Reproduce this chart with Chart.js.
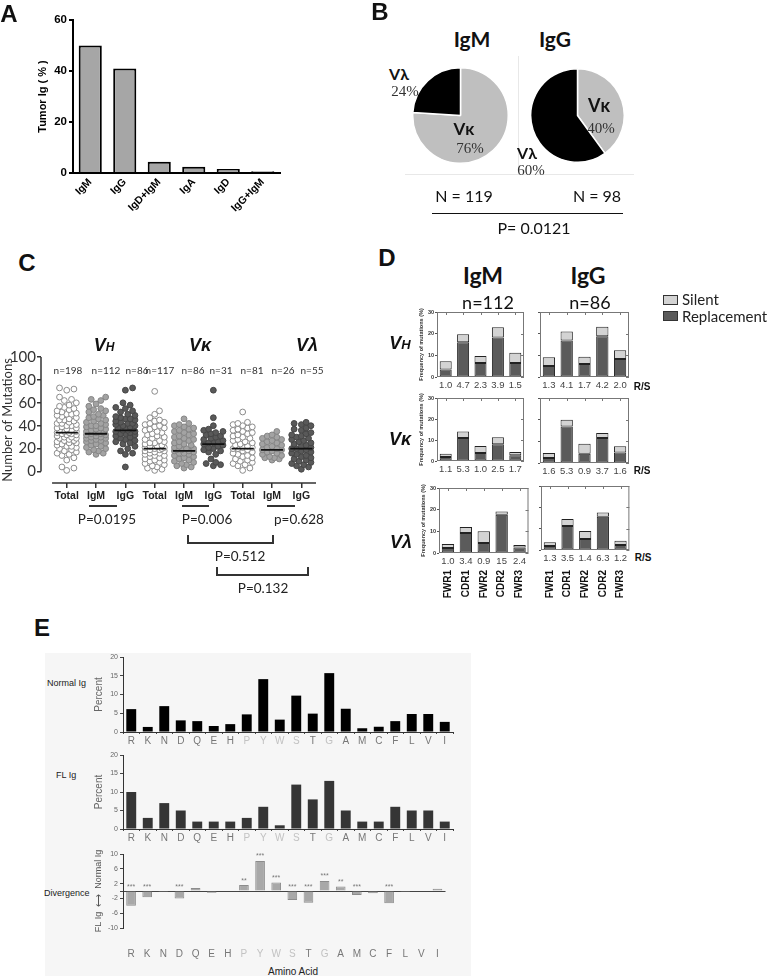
<!DOCTYPE html>
<html>
<head>
<meta charset="utf-8">
<script src="https://cdn.jsdelivr.net/npm/chart.js@4.4.0/dist/chart.umd.min.js"></script>
<style>
  body { margin: 0; background: #fff; width: 767px; height: 976px; position: relative; overflow: hidden; }
  canvas, .t, .r { position: absolute; }
  .t { white-space: nowrap; line-height: 1; color: #111; }
</style>
</head>
<body>
<script>
/* ---------- fonts / colours ---------- */
const SANS = '"Liberation Sans", Arial, sans-serif';
const CAL = 'Lato, "Open Sans", "DejaVu Sans", sans-serif';
const SERIF = '"Liberation Serif", "DejaVu Serif", serif';

/* ---------- A: tumour Ig isotypes ---------- */
const isotypes = ['IgM', 'IgG', 'IgD+IgM', 'IgA', 'IgD', 'IgG+IgM'];
const tumorIgPct = [50, 41, 4.4, 2.5, 1.6, 0.7];
const tumorTicks = [0, 20, 40, 60];

/* ---------- B: light chain usage ---------- */
const lightChains = ['Vκ', 'Vλ'];
const igmLight = [76, 24];
const iggLight = [40, 60];

/* ---------- C: number of mutations ---------- */
const mutColumns = ['Total', 'IgM', 'IgG', 'Total', 'IgM', 'IgG', 'Total', 'IgM', 'IgG'];
const mutTicks = [0, 20, 40, 60, 80, 100];
const mutMeans = [34, 33, 36, 20, 18, 24, 20, 19, 20];
const vhTotal = [73, 72, 71, 65, 63, 62, 60, 58, 57, 56, 55, 54, 53, 52, 51, 50, 50, 49, 48, 47, 46, 45, 45, 44, 43, 42, 42, 41, 40, 40, 39, 38, 38, 37, 36, 36, 35, 35, 34, 34, 33, 33, 32, 32, 31, 30, 30, 29, 29, 28, 27, 27, 26, 25, 25, 24, 23, 22, 22, 21, 20, 19, 18, 17, 16, 15, 14, 12, 10, 4, 3, 1];
const vhIgM = [65, 63, 62, 59, 57, 55, 54, 53, 52, 50, 49, 48, 47, 46, 45, 44, 43, 42, 41, 40, 40, 39, 38, 37, 37, 36, 35, 35, 34, 34, 33, 33, 32, 32, 31, 30, 30, 29, 29, 28, 27, 27, 26, 25, 24, 23, 22, 21, 20, 19, 18, 17, 16, 15];
const vhIgG = [73, 71, 60, 58, 56, 55, 53, 52, 50, 49, 48, 47, 46, 46, 45, 44, 43, 42, 42, 41, 40, 40, 39, 38, 38, 37, 36, 36, 35, 35, 34, 33, 33, 32, 31, 30, 29, 28, 27, 26, 25, 24, 22, 20, 18, 16, 15, 4];
const vkTotal = [70, 53, 50, 47, 45, 44, 43, 42, 41, 40, 39, 38, 37, 36, 35, 34, 33, 32, 31, 30, 29, 28, 27, 26, 25, 25, 24, 23, 22, 22, 21, 21, 20, 20, 19, 19, 18, 18, 17, 16, 16, 15, 14, 14, 13, 12, 11, 10, 10, 9, 8, 7, 6, 5, 4, 3, 2, 1];
const vkIgM = [46, 42, 41, 40, 39, 38, 37, 36, 35, 34, 33, 32, 31, 30, 29, 28, 27, 26, 25, 24, 23, 22, 21, 20, 20, 19, 19, 18, 18, 17, 16, 16, 15, 14, 13, 12, 11, 10, 9, 8, 7, 6, 5, 4, 3];
const vkIgG = [71, 47, 40, 37, 36, 35, 34, 33, 32, 31, 30, 29, 28, 27, 26, 25, 25, 24, 23, 22, 21, 20, 19, 18, 17, 15, 11, 8, 7, 6, 5];
const vlTotal = [52, 43, 42, 41, 40, 39, 38, 37, 36, 35, 34, 33, 32, 31, 30, 29, 28, 27, 26, 25, 24, 23, 22, 21, 21, 20, 20, 19, 18, 17, 16, 15, 14, 13, 12, 11, 10, 9, 8, 7, 6, 5, 3, 1];
const vlIgM = [35, 32, 31, 30, 29, 28, 27, 26, 25, 24, 23, 22, 21, 20, 19, 19, 18, 17, 16, 15, 14, 13, 12, 12, 11, 10];
const vlIgG = [43, 42, 41, 40, 38, 37, 36, 34, 33, 32, 31, 30, 29, 28, 27, 26, 25, 24, 23, 22, 21, 20, 20, 19, 18, 17, 16, 15, 14, 13, 12, 11, 10, 9, 8, 7, 6, 5, 4, 2];

/* ---------- D: silent / replacement by region ---------- */
const regions = ['FWR1', 'CDR1', 'FWR2', 'CDR2', 'FWR3'];
const vhIgMRep = [3.5, 16, 6.5, 18.2, 6.5], vhIgMSil = [3.8, 3.7, 3.2, 4.8, 4.7];
const vhIgGRep = [5.1, 16.8, 6, 18.8, 8.3], vhIgGSil = [4, 4.2, 3.3, 4.4, 4];
const vkIgMRep = [1.9, 11, 3.8, 8, 2.7], vkIgMSil = [1.6, 3, 3.3, 3.3, 1.6];
const vkIgGRep = [2.3, 16.9, 4.3, 11.5, 4.9], vkIgGSil = [2.3, 3.1, 4.6, 2.3, 2.8];
const vlIgMRep = [2.3, 9.2, 4.6, 17.7, 2.5], vlIgMSil = [1.8, 2.8, 5.4, 1.5, 1.2];
const vlIgGRep = [1.9, 11.2, 5.1, 15.6, 2.3], vlIgGSil = [1.7, 3.3, 3.8, 2.0, 2.0];
const vhIgMRS = ['1.0', '4.7', '2.3', '3.9', '1.5'], vhIgGRS = ['1.3', '4.1', '1.7', '4.2', '2.0'];
const vkIgMRS = ['1.1', '5.3', '1.0', '2.5', '1.7'], vkIgGRS = ['1.6', '5.3', '0.9', '3.7', '1.6'];
const vlIgMRS = ['1.0', '3.4', '0.9', '15', '2.4'], vlIgGRS = ['1.3', '3.5', '1.4', '6.3', '1.2'];

/* ---------- E: amino acid composition ---------- */
const aminoAcids = ['R', 'K', 'N', 'D', 'Q', 'E', 'H', 'P', 'Y', 'W', 'S', 'T', 'G', 'A', 'M', 'C', 'F', 'L', 'V', 'I'];
const paleAcids = ['P', 'Y', 'W', 'S', 'G'];
const normalIgPct = [6.1, 1.35, 6.9, 3.1, 2.9, 1.6, 2.1, 4.7, 14.1, 3.3, 9.7, 4.9, 15.7, 6.2, 1.0, 1.4, 2.9, 4.8, 4.8, 2.7];
const flIgPct = [10, 3, 7, 5, 2, 2, 2, 3, 6, 1, 12, 8, 13, 5, 2, 2, 6, 5, 5, 2];
const divergence = [-4.0, -1.7, -0.3, -2.0, 0.8, -0.45, 0, 1.6, 8.1, 2.3, -2.4, -3.2, 2.7, 1.2, -1.1, -0.6, -3.3, -0.3, -0.15, 0.6];
const divergenceStars = ['***', '***', '', '***', '', '', '', '**', '***', '***', '***', '***', '***', '**', '***', '', '***', '', '', ''];
const percentTicks = [0, 5, 10, 15, 20];
const divTicks = [-10, -6, -2, 0, 2, 6, 10];

Chart.defaults.font.family = SANS;
Chart.defaults.animation = false;
Chart.defaults.responsive = false;
Chart.defaults.plugins.legend.display = false;
Chart.defaults.plugins.tooltip.enabled = false;

// ===================== helpers =====================
function mkCanvas(left, top, w, h) {
  const c = document.createElement('canvas');
  c.width = w; c.height = h;
  c.style.left = left + 'px'; c.style.top = top + 'px';
  c.style.width = w + 'px'; c.style.height = h + 'px';
  document.body.appendChild(c);
  return c;
}

function txt(html, x, y, style, align) {
  const d = document.createElement('div');
  d.className = 't';
  d.innerHTML = html;
  d.style.cssText += style;
  d.style.left = x + 'px';
  d.style.top = y + 'px';
  d.style.transform = align === 'left' ? 'translate(0,-50%)' : 'translate(-50%,-50%)';
  document.body.appendChild(d);
}

function rule(x, y, w, h, color) {
  const d = document.createElement('div');
  d.className = 'r';
  d.style.cssText = `left:${x}px;top:${y}px;width:${w}px;height:${h}px;background:${color || '#333'}`;
  document.body.appendChild(d);
  return d;
}

const fixedTicks = list => s => { s.ticks = list.map(v => ({ value: v })); };
const NO_GRID = { display: false, drawTicks: false };

// ===================== A =====================
new Chart(mkCanvas(0, 0, 290, 225), {
  type: 'bar',
  data: {
    labels: isotypes,
    datasets: [{
      data: tumorIgPct, backgroundColor: '#a6a6a6', borderColor: '#000', borderWidth: 2,
      barPercentage: 0.67, categoryPercentage: 1
    }]
  },
  options: {
    devicePixelRatio: 1,
    layout: { padding: { top: 20, left: 36, right: 10, bottom: 0 } },
    scales: {
      x: {
        grid: NO_GRID,
        border: { color: '#000', width: 2 },
        ticks: { font: { weight: 'bold', size: 10.5 }, color: '#000', minRotation: 45, maxRotation: 45, padding: 3 },
        afterFit: s => { s.height = 52; }
      },
      y: {
        min: 0, max: 60,
        afterBuildTicks: fixedTicks(tumorTicks),
        ticks: { font: { weight: 'bold', size: 11.5 }, color: '#000', padding: 2 },
        grid: { drawOnChartArea: false, tickLength: 4, color: '#000', lineWidth: 2 },
        border: { color: '#000', width: 2 },
        title: { display: true, text: 'Tumor Ig ( % )', font: { weight: 'bold', size: 11 }, color: '#000', padding: 0 },
        afterFit: s => { s.width = 37; }
      }
    }
  }
});
txt('A', 9, 14, `font:bold 24px ${SANS}`);

// ===================== B =====================
function makePie(left, top, size, values) {
  new Chart(mkCanvas(left, top, size, size), {
    type: 'pie',
    data: {
      labels: lightChains,
      datasets: [{ data: values, backgroundColor: ['#bfbfbf', '#000'], borderColor: '#fff', borderWidth: 1.5 }]
    },
    options: { devicePixelRatio: 1, layout: { padding: 0 } }
  });
}
rule(518, 56, 1, 118, '#e8e8e8');
rule(405, 174, 229, 1, '#e8e8e8');
makePie(412, 67, 97, igmLight);
makePie(530, 68, 95, iggLight);
txt('B', 380, 12, `font:bold 24px ${SANS}`);
txt('IgM', 472, 38, `font:bold 21px ${CAL}`);
txt('IgG', 555, 38, `font:bold 21px ${CAL}`);
txt('Vλ', 399, 73, `font:bold 16px ${CAL}`);
txt('24%', 405, 91, `font:15px ${SERIF};color:#333`);
txt('Vκ', 464, 128, `font:bold 17px ${CAL}`);
txt('76%', 470, 148, `font:15px ${SERIF};color:#333`);
txt('Vκ', 599, 105, `font:bold 18px ${CAL}`);
txt('40%', 601, 128, `font:15px ${SERIF};color:#333`);
txt('Vλ', 527, 152, `font:bold 16px ${CAL}`);
txt('60%', 531, 170, `font:15px ${SERIF};color:#333`);
txt('N = 119', 464, 195, `font:16px ${CAL}`);
txt('N = 98', 597, 195, `font:16px ${CAL}`);
rule(432, 213, 191, 1, '#111');
txt('P= 0.0121', 534, 227, `font:16px ${CAL}`);

// ===================== C =====================
// beeswarm layout: horizontal offset only, values stay as read
function swarmPoints(values, col) {
  const pxX = 29.3, pxY = 1.1455, minD = 5.6, step = 2.4, maxOff = 9.6;
  const placed = [];
  const pts = [];
  values.slice().sort((a, b) => a - b).forEach(v => {
    const py = v * pxY;
    let best = 0, bestD = -1;
    for (let k = 0; ; k++) {
      const off = (k % 2 ? 1 : -1) * Math.ceil(k / 2) * step;
      if (Math.abs(off) > maxOff) break;
      let d = Infinity;
      placed.forEach(p => { d = Math.min(d, Math.hypot(p.x - off, p.y - py)); });
      if (d >= minD) { best = off; bestD = d; break; }
      if (d > bestD) { bestD = d; best = off; }
    }
    placed.push({ x: best, y: py });
    pts.push({ x: col + best / pxX, y: v });
  });
  return pts;
}

const columnValues = [vhTotal, vhIgM, vhIgG, vkTotal, vkIgM, vkIgG, vlTotal, vlIgM, vlIgG];
const columnStyle = [
  { backgroundColor: '#ffffff', borderColor: '#8a8a8a' },
  { backgroundColor: '#a3a3a3', borderColor: '#858585' },
  { backgroundColor: '#595959', borderColor: '#454545' }
];

const meanData = [];
mutMeans.forEach((m, i) => {
  meanData.push({ x: i - 0.38, y: m }, { x: i + 0.38, y: m }, { x: i + 0.5, y: null });
});

const mutDatasets = [{
  data: meanData, showLine: true, spanGaps: false, borderColor: '#111', borderWidth: 1.8, pointRadius: 0
}];
columnValues.forEach((vals, i) => {
  mutDatasets.push(Object.assign({
    data: swarmPoints(vals, i), pointRadius: 2.9, borderWidth: 1
  }, columnStyle[i % 3]));
});

const axisLines = {
  id: 'axisLines',
  afterDraw(chart) {
    const { ctx, chartArea: a, scales: { x, y } } = chart;
    ctx.save();
    ctx.strokeStyle = '#333';
    ctx.lineWidth = 1.5;
    ctx.beginPath();
    ctx.moveTo(a.left, y.getPixelForValue(0));
    ctx.lineTo(a.left, y.getPixelForValue(100));
    ctx.moveTo(x.getPixelForValue(-0.5), a.bottom);
    ctx.lineTo(x.getPixelForValue(mutColumns.length - 0.5), a.bottom);
    ctx.stroke();
    ctx.restore();
  }
};

new Chart(mkCanvas(0, 340, 330, 170), {
  type: 'scatter',
  data: { datasets: mutDatasets },
  options: {
    devicePixelRatio: 1,
    layout: { padding: { top: 17, right: 14, left: 0, bottom: 0 } },
    scales: {
      x: {
        type: 'linear', min: -0.877, max: 8.5,
        afterBuildTicks: s => { s.ticks = mutColumns.map((c, i) => ({ value: i })); },
        ticks: { callback: (v, i) => mutColumns[i], font: { size: 10.5, weight: 'bold' }, color: '#222', padding: 2, maxRotation: 0, autoSkip: false },
        grid: { drawOnChartArea: false, tickLength: 5, color: '#333', lineWidth: 1.5 },
        border: { display: false },
        afterFit: s => { s.height = 27; }
      },
      y: {
        min: -10, max: 100,
        afterBuildTicks: fixedTicks(mutTicks),
        ticks: { font: { family: CAL, size: 15 }, color: '#333', padding: 1 },
        grid: { drawOnChartArea: false, tickLength: 4, color: '#333', lineWidth: 1.5 },
        border: { display: false },
        title: { display: true, text: 'Number of Mutations', font: { family: CAL, size: 13 }, color: '#333', padding: 0 },
        afterFit: s => { s.width = 41; }
      }
    }
  },
  plugins: [axisLines]
});

txt('C', 27, 263, `font:bold 24px ${SANS}`);
const vStyle = `font:italic bold 18px ${SANS}`;
txt('V<span style="font-size:12px">H</span>', 104, 345, vStyle);
txt('Vκ', 200, 345, vStyle);
txt('Vλ', 307, 345, vStyle);
const nLabels = ['n=198', 'n=112', 'n=86', 'n=117', 'n=86', 'n=31', 'n=81', 'n=26', 'n=55'];
const nX = [68, 106, 137, 160, 193, 221, 252, 283, 312];
nLabels.forEach((n, i) => txt(n, nX[i], 370, `font:10px ${CAL};color:#333`));
rule(89, 505, 28, 1.5);
rule(182, 505, 27, 1.5);
rule(267, 505, 28, 1.5);
txt('P=0.0195', 107, 519, `font:13.5px ${CAL};color:#222`);
txt('P=0.006', 207, 519, `font:13.5px ${CAL};color:#222`);
txt('p=0.628', 299, 519, `font:13.5px ${CAL};color:#222`);
rule(187, 535, 1.5, 8); rule(272, 535, 1.5, 8); rule(187, 542, 87, 1.5);
txt('P=0.512', 240, 556, `font:13.5px ${CAL};color:#222`);
rule(216, 567, 1.5, 8); rule(307, 567, 1.5, 8); rule(216, 574, 93, 1.5);
txt('P=0.132', 263, 588, `font:13.5px ${CAL};color:#222`);

// ===================== D =====================
const frameBox = {
  id: 'frameBox',
  afterDraw(chart) {
    const { ctx, chartArea: a, scales: { x, y } } = chart;
    ctx.save();
    ctx.strokeStyle = '#777';
    ctx.lineWidth = 1;
    ctx.strokeRect(a.left + 0.5, a.top + 0.5, a.width - 1, a.height - 1);
    ctx.beginPath();
    x.ticks.forEach((t, i) => {
      const px = Math.round(x.getPixelForTick(i)) + 0.5;
      ctx.moveTo(px, a.top); ctx.lineTo(px, a.top + 3);
    });
    y.ticks.forEach((t, i) => {
      const py = Math.round(y.getPixelForTick(i)) + 0.5;
      ctx.moveTo(a.right, py); ctx.lineTo(a.right - 3, py);
    });
    ctx.stroke();
    ctx.restore();
  }
};

function makeMutChart(g, rep, sil, rs) {
  const yW = g.yLabels ? 19 : 6;
  const left = g.l - yW, top = g.t - 6;
  const extra = g.names ? 30 : 0;
  const w = g.r - left + 4, h = g.b - top + g.xH + extra;
  const scales = {
    x: {
      stacked: true, weight: 0,
      grid: NO_GRID, border: { display: false },
      ticks: { callback: (v, i) => rs[i], font: { size: 9.5 }, color: '#444', padding: 3, maxRotation: 0, autoSkip: false },
      afterFit: s => { s.height = g.xH; }
    },
    y: {
      stacked: true, min: 0, max: 30,
      ticks: { stepSize: 10, display: g.yLabels, font: { size: 5.5, weight: 'bold' }, color: '#333', padding: 1 },
      grid: { drawOnChartArea: false, tickLength: 2, color: '#555' },
      border: { display: false },
      title: { display: g.yLabels, text: 'Frequency of mutations (%)', font: { size: 5.5, weight: 'bold' }, color: '#333', padding: 0 },
      afterFit: s => { s.width = yW; }
    }
  };
  if (g.names) {
    scales.x2 = {
      type: 'category', labels: regions, position: 'bottom', offset: true, weight: 1,
      grid: NO_GRID, border: { display: false },
      ticks: { font: { size: 10, weight: 'bold' }, color: '#111', minRotation: 90, maxRotation: 90, padding: 1, autoSkip: false },
      afterFit: s => { s.height = extra; }
    };
  }
  const barStyle = { borderColor: '#222', borderWidth: 1, borderSkipped: false, barPercentage: 0.69, categoryPercentage: 1 };
  new Chart(mkCanvas(left, top, w, h), {
    type: 'bar',
    data: {
      labels: regions,
      datasets: [
        Object.assign({ label: 'Replacement', data: rep, backgroundColor: '#5b5b5b' }, barStyle),
        Object.assign({ label: 'Silent', data: sil, backgroundColor: '#d3d3d3' }, barStyle)
      ]
    },
    options: { devicePixelRatio: 1, layout: { padding: { top: 6, right: 4, left: 0, bottom: 0 } }, scales },
    plugins: [frameBox]
  });
}

makeMutChart({ l: 437, r: 524, t: 312, b: 377, xH: 16, yLabels: true }, vhIgMRep, vhIgMSil, vhIgMRS);
makeMutChart({ l: 540, r: 629, t: 312, b: 377, xH: 16, yLabels: false }, vhIgGRep, vhIgGSil, vhIgGRS);
makeMutChart({ l: 437, r: 524, t: 398, b: 461, xH: 16, yLabels: true }, vkIgMRep, vkIgMSil, vkIgMRS);
makeMutChart({ l: 540, r: 629, t: 398, b: 463, xH: 16, yLabels: false }, vkIgGRep, vkIgGSil, vkIgGRS);
makeMutChart({ l: 439, r: 529, t: 488, b: 553, xH: 16, yLabels: true, names: true }, vlIgMRep, vlIgMSil, vlIgMRS);
makeMutChart({ l: 541, r: 630, t: 486, b: 550, xH: 19, yLabels: false, names: true }, vlIgGRep, vlIgGSil, vlIgGRS);

txt('D', 387, 258, `font:bold 24px ${SANS}`);
txt('IgM', 483, 275, `font:bold 23px ${CAL}`);
txt('IgG', 588, 275, `font:bold 23px ${CAL}`);
txt('n=112', 488, 302, `font:18px ${CAL}`);
txt('n=86', 590, 302, `font:18px ${CAL}`);
rule(663, 295, 13, 8, '#d3d3d3').style.border = '1px solid #333';
rule(663, 311, 13, 8, '#5b5b5b').style.border = '1px solid #333';
txt('Silent', 682, 299, `font:15px ${CAL};color:#222`, 'left');
txt('Replacement', 682, 315.5, `font:15px ${CAL};color:#222`, 'left');
const rowStyle = `font:italic bold 18px ${SANS}`;
txt('V<span style="font-size:13px">H</span>', 400, 343, rowStyle);
txt('Vκ', 400, 439, rowStyle);
txt('Vλ', 401, 542, rowStyle);
txt('R/S', 642, 386, `font:bold 10px ${SANS}`);
txt('R/S', 642, 470, `font:bold 10px ${SANS}`);
txt('R/S', 643, 557, `font:bold 10px ${SANS}`);

// ===================== E =====================
rule(45, 653, 426, 323, '#f6f6f6');
const aaColor = c => paleAcids.includes(aminoAcids[c.index]) ? '#c2c2c2' : '#777';

function aaAxis(height) {
  return {
    grid: { offset: true, drawOnChartArea: false, tickLength: 2, color: '#444' },
    border: { color: '#333' },
    ticks: { font: { size: 10 }, color: aaColor, padding: 1, autoSkip: false, maxRotation: 0 },
    afterFit: s => { s.height = height; }
  };
}

function percentAxis() {
  return {
    min: 0, max: 20,
    afterBuildTicks: fixedTicks(percentTicks),
    ticks: { font: { size: 7 }, color: '#666', padding: 2 },
    grid: { drawOnChartArea: false, tickLength: 3, color: '#444' },
    border: { color: '#333' },
    title: { display: true, text: 'Percent', font: { size: 10 }, color: '#666', padding: 0 },
    afterFit: s => { s.width = 30; }
  };
}

new Chart(mkCanvas(93, 650, 366, 98), {
  type: 'bar',
  data: { labels: aminoAcids, datasets: [{ data: normalIgPct, backgroundColor: '#000', barPercentage: 0.6, categoryPercentage: 1 }] },
  options: { devicePixelRatio: 1, layout: { padding: { top: 7, right: 6 } }, scales: { x: aaAxis(16), y: percentAxis() } }
});

new Chart(mkCanvas(93, 748, 366, 97), {
  type: 'bar',
  data: { labels: aminoAcids, datasets: [{ data: flIgPct, backgroundColor: '#353535', barPercentage: 0.6, categoryPercentage: 1 }] },
  options: { devicePixelRatio: 1, layout: { padding: { top: 7, right: 6 } }, scales: { x: aaAxis(16), y: percentAxis() } }
});

const starLabels = {
  id: 'starLabels',
  afterDatasetsDraw(chart) {
    const meta = chart.getDatasetMeta(0);
    const { ctx } = chart;
    ctx.save();
    ctx.font = '7px ' + SANS;
    ctx.fillStyle = '#777';
    ctx.textAlign = 'center';
    ctx.textBaseline = 'bottom';
    meta.data.forEach((bar, i) => {
      if (divergenceStars[i]) ctx.fillText(divergenceStars[i], bar.x, Math.min(bar.y, bar.base) - 1);
    });
    ctx.restore();
  }
};

new Chart(mkCanvas(93, 847, 366, 112), {
  type: 'bar',
  data: {
    labels: aminoAcids,
    datasets: [{ data: divergence, backgroundColor: '#a8a8a8', borderColor: '#8c8c8c', borderWidth: 1, barPercentage: 0.6, categoryPercentage: 1 }]
  },
  options: {
    devicePixelRatio: 1,
    layout: { padding: { top: 7, right: 6 } },
    scales: {
      x: {
        grid: NO_GRID, border: { display: false },
        ticks: { font: { size: 10 }, color: aaColor, padding: 20, autoSkip: false, maxRotation: 0 },
        afterFit: s => { s.height = 31; }
      },
      y: {
        min: -10, max: 10,
        afterBuildTicks: fixedTicks(divTicks),
        ticks: { callback: v => (v === 0 ? '' : v), font: { size: 7 }, color: '#666', padding: 2 },
        grid: {
          color: c => (c.tick && c.tick.value === 0 ? '#444' : 'rgba(0,0,0,0)'),
          tickColor: '#444', tickLength: 3
        },
        border: { color: '#333' },
        title: { display: true, text: 'FL Ig  ⟷  Normal Ig', font: { size: 9 }, color: '#555', padding: 0 },
        afterFit: s => { s.width = 30; }
      }
    }
  },
  plugins: [starLabels]
});

txt('E', 42, 628, `font:bold 24px ${SANS}`);
txt('Normal Ig', 47, 683, `font:9px ${SANS};color:#222`, 'left');
txt('FL Ig', 56, 775, `font:9px ${SANS};color:#222`, 'left');
txt('Divergence', 44, 893, `font:9px ${SANS};color:#222`, 'left');
txt('Amino Acid', 293, 971, `font:10px ${SANS};color:#222`);
</script>
</body>
</html>
